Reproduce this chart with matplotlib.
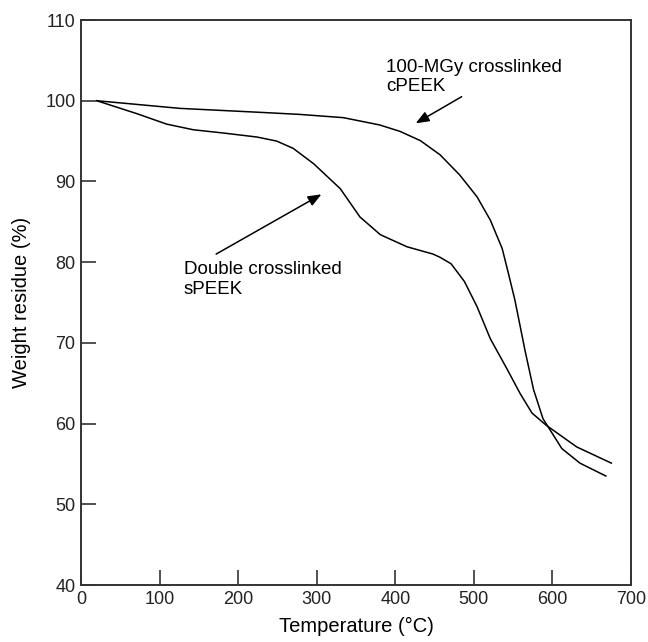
import matplotlib
matplotlib.use("Agg")
import matplotlib.pyplot as plt

plt.rcParams['font.family'] = ['Liberation Sans', 'DejaVu Sans']

# cPEEK (100-MGy crosslinked)
c_temp = [20, 126, 228, 279, 334, 380, 406, 432, 457, 482, 504, 521, 536, 544, 552, 557, 565, 576, 588, 612, 635, 668]
c_weight = [100, 99.05, 98.56, 98.3, 97.9, 97.0, 96.2, 95.05, 93.3, 90.8, 88.1, 85.2, 81.7, 78.6, 75.4, 73.0, 69.1, 64.2, 60.6, 56.9, 55.1, 53.5]

# sPEEK (double crosslinked)
s_temp = [20, 71, 109, 143, 181, 224, 249, 270, 296, 330, 355, 381, 415, 448, 457, 471, 488, 504, 521, 542, 559, 574, 592, 631, 675]
s_weight = [100, 98.4, 97.1, 96.4, 96.0, 95.5, 95.0, 94.1, 92.2, 89.1, 85.6, 83.4, 81.9, 81.0, 80.6, 79.8, 77.6, 74.5, 70.5, 66.8, 63.7, 61.3, 59.8, 57.1, 55.1]

x_ticks = [0, 100, 200, 300, 400, 500, 600, 700]
y_ticks = [40, 50, 60, 70, 80, 90, 100, 110]

fig = plt.figure(figsize=(6.48, 6.42), dpi=100)
ax = fig.add_axes([81/648, 1-585/642, 550/648, 565/642])

ax.plot(c_temp, c_weight, color='black', lw=1.1)
ax.plot(s_temp, s_weight, color='black', lw=1.1)

ax.set_xlim(0, 700)
ax.set_ylim(40, 110)
ax.set_xticks(x_ticks)
ax.set_yticks(y_ticks)
ax.tick_params(direction='in', length=11, width=1.1, labelsize=13, colors='#222222', pad=4)
for s in ax.spines.values():
    s.set_linewidth(1.4)
    s.set_color('#333333')

ax.set_xlabel('Temperature (°C)', fontsize=14.5, labelpad=7)
ax.set_ylabel('Weight residue (%)', fontsize=14.5, labelpad=10)

ax.text(388, 102.95, '100-MGy crosslinked\ncPEEK', fontsize=13.5, ha='left', va='center', linespacing=1.2)
ax.annotate('', xy=(426, 97.2), xytext=(484.5, 100.5),
            arrowprops=dict(arrowstyle='-|>,head_length=0.5,head_width=0.2', color='black', lw=1.1, mutation_scale=16, shrinkA=0, shrinkB=0))

ax.text(130.5, 77.85, 'Double crosslinked\nsPEEK', fontsize=13.5, ha='left', va='center', linespacing=1.2)
ax.annotate('', xy=(306, 88.4), xytext=(172, 81.0),
            arrowprops=dict(arrowstyle='-|>,head_length=0.5,head_width=0.2', color='black', lw=1.1, mutation_scale=16, shrinkA=0, shrinkB=0))

fig.savefig('out.png', dpi=100)
